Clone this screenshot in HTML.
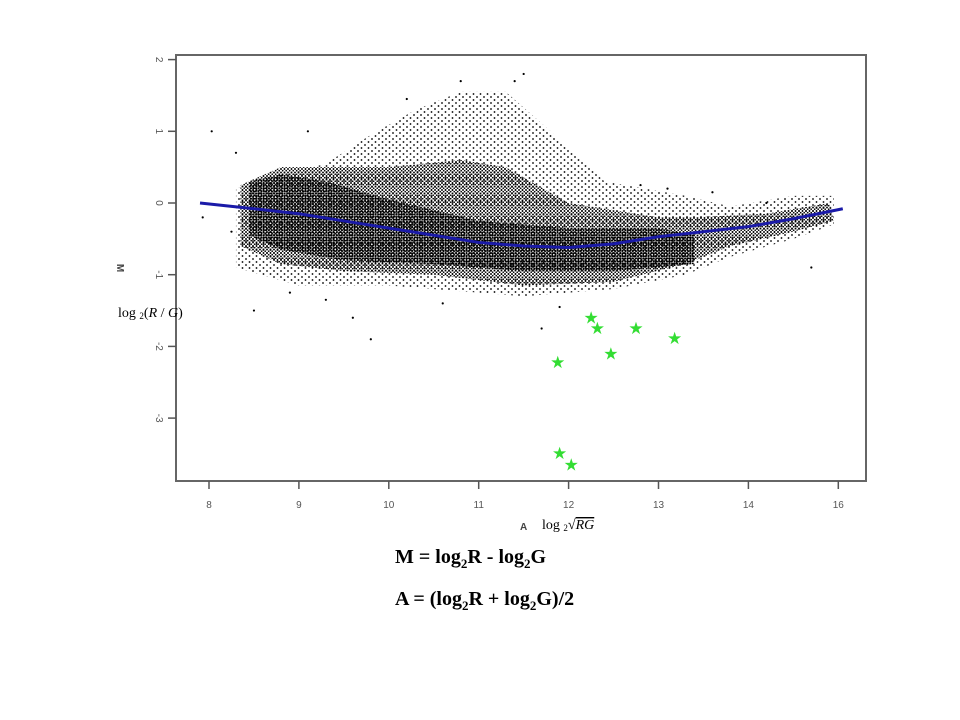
<!DOCTYPE html>
<html><head><meta charset="utf-8"><style>
body{margin:0;background:#fff;width:960px;height:720px;overflow:hidden}
.f{font-family:"Liberation Serif",serif;font-weight:bold;font-size:20px;position:absolute;left:395px}
</style></head><body>
<svg id="chart" width="960" height="720" style="position:absolute;left:0;top:0">
<defs>
<pattern id="dense" width="2.6" height="2.6" patternUnits="userSpaceOnUse"><circle cx="1.2" cy="1.2" r="1.05" fill="#000"/></pattern>
<pattern id="mid" width="3.5" height="3.5" patternUnits="userSpaceOnUse"><circle cx="1" cy="1" r="0.95" fill="#000"/><circle cx="2.7" cy="2.7" r="0.85" fill="#000"/></pattern>
<pattern id="sparse" width="7" height="6" patternUnits="userSpaceOnUse"><circle cx="1" cy="1" r="0.9" fill="#000"/><circle cx="4.5" cy="4" r="0.9" fill="#000"/></pattern>
</defs>
<g id="g"></g>
</svg>
<div class="f" style="top:546px">M = log<sub style="font-size:13px">2</sub>R - log<sub style="font-size:13px">2</sub>G</div>
<div class="f" style="top:588px">A = (log<sub style="font-size:13px">2</sub>R + log<sub style="font-size:13px">2</sub>G)/2</div>
<script>
const xTicks=[8,9,10,11,12,13,14,15];
const xTickLabels=["8","9","10","11","12","13","14","16"];
const yTicks=[2,1,0,-1,-2,-3];
const yTickLabels=["2","1","0","-1","-2","-3"];
const loessA=[7.9,8.5,9,9.5,10,10.5,11,11.5,12,12.5,13,13.5,14,14.5,15.05];
const loessM=[0,-0.08,-0.15,-0.25,-0.35,-0.45,-0.55,-0.6,-0.62,-0.57,-0.47,-0.4,-0.33,-0.22,-0.08];
const starA=[12.25,12.32,12.75,13.18,12.47,11.88,11.9,12.03];
const starM=[-1.6,-1.74,-1.74,-1.88,-2.1,-2.22,-3.49,-3.65];
const outA=[7.93,8.03,8.3,9.1,8.5,9.6,9.8,11.5,11.4,10.8,10.2,11.7,8.9,14.7,12.8,13.1,8.25,9.3,10.6,11.9,13.6,14.2];
const outM=[-0.2,1.0,0.7,1.0,-1.5,-1.6,-1.9,1.8,1.7,1.7,1.45,-1.75,-1.25,-0.9,0.25,0.2,-0.4,-1.35,-1.4,-1.45,0.15,0.0];
const sparseA=[8.3,9.3,9.8,10.3,10.8,11.3,11.8,12.4,13.3,13.8,14.5,14.95,14.95,14.5,13.8,13.3,12.5,11.5,10,9,8.3];
const sparseM=[0.2,0.55,0.95,1.3,1.55,1.55,1.0,0.3,0.1,-0.05,0.1,0.1,-0.3,-0.5,-0.75,-1.0,-1.2,-1.3,-1.15,-1.15,-0.9];
const midA=[8.35,8.8,9.4,10,10.8,11.3,12,13,13.4,14.2,14.9,14.95,14.5,13.8,13.3,12.5,11.5,10.5,9.5,8.8,8.35];
const midM=[0.25,0.5,0.5,0.5,0.6,0.5,0.0,-0.2,-0.2,-0.15,0.0,-0.25,-0.4,-0.6,-0.85,-1.1,-1.15,-1.0,-0.95,-0.85,-0.6];
const denseA=[8.45,8.8,9.3,10,11,12,13,13.4,13.4,12.5,11.5,10.5,9.5,8.8,8.45];
const denseM=[0.3,0.4,0.3,0.05,-0.25,-0.35,-0.35,-0.45,-0.85,-0.95,-0.95,-0.85,-0.8,-0.65,-0.45];
const X=a=>209+(a-8)*89.9, Y=m=>203-m*71.7;
const NS="http://www.w3.org/2000/svg", g=document.getElementById('g');
function mk(t,at){const e=document.createElementNS(NS,t);for(const k in at)e.setAttribute(k,at[k]);g.appendChild(e);return e;}
function poly(A,M,fill,name){const e=mk('path',{d:A.map((a,i)=>(i?'L':'M')+X(a)+','+Y(M[i])).join('')+'Z',fill:fill});

}
poly(sparseA,sparseM,'url(#sparse)','sparse-point-cloud');
poly(midA,midM,'url(#mid)','medium-point-cloud');
poly(denseA,denseM,'url(#dense)','dense-point-cloud');
outA.forEach((a,i)=>{const c=mk('circle',{cx:X(a),cy:Y(outM[i]),r:1.1,fill:'#000'});

});
const fr=mk('rect',{x:176,y:55,width:690,height:426,fill:'none',stroke:'#666','stroke-width':2});


const ln=mk('polyline',{points:loessA.map((a,i)=>X(a)+','+Y(loessM[i])).join(' '),fill:'none',stroke:'#1a1aa8','stroke-width':3});


starA.forEach((a,i)=>{const t=mk('text',{x:X(a),y:Y(starM[i])+6,'text-anchor':'middle','font-size':17,fill:'#33dd33','font-family':'DejaVu Sans, sans-serif'});t.textContent='★';

});
xTicks.forEach((v,i)=>{const l=mk('line',{x1:X(v),x2:X(v),y1:481,y2:489,stroke:'#555','stroke-width':1.5});


const t=mk('text',{x:X(v),y:508,'text-anchor':'middle','font-size':10,fill:'#555','font-family':'Liberation Sans, sans-serif'});t.textContent=xTickLabels[i];

});
yTicks.forEach((v,i)=>{const l=mk('line',{x1:168,x2:176,y1:Y(v),y2:Y(v),stroke:'#555','stroke-width':1.5});


const t=mk('text',{x:0,y:0,transform:`translate(156,${Y(v)}) rotate(90)`,'text-anchor':'middle','font-size':10,fill:'#555','font-family':'Liberation Sans, sans-serif'});t.textContent=yTickLabels[i];

});
const ma=mk('text',{x:0,y:0,transform:'translate(117,268) rotate(90)','text-anchor':'middle','font-size':10,fill:'#444','font-family':'Liberation Sans, sans-serif','font-weight':'bold'});ma.textContent='M';


const ya=mk('text',{x:118,y:317,'font-size':14,fill:'#000','font-family':'Liberation Serif, serif'});ya.innerHTML='log <tspan font-size="9" dy="2">2</tspan><tspan dy="-2">(</tspan><tspan font-style="italic">R</tspan> / <tspan font-style="italic">G</tspan>)';


const xa=mk('text',{x:520,y:530,'font-size':10,fill:'#444','font-family':'Liberation Sans, sans-serif','font-weight':'bold'});xa.textContent='A';


const xf=mk('text',{x:542,y:529,'font-size':14,fill:'#000','font-family':'Liberation Serif, serif'});xf.innerHTML='log <tspan font-size="9" dy="2">2</tspan><tspan dy="-2">√</tspan><tspan font-style="italic" text-decoration="overline">RG</tspan>';


</script>
</body></html>
